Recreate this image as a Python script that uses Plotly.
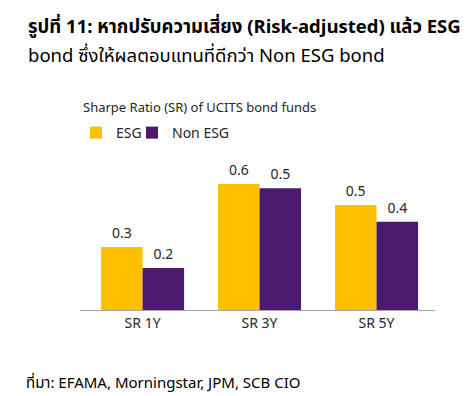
import plotly.graph_objects as go

categories = ["SR 1Y", "SR 3Y", "SR 5Y"]
esg_values = [0.30, 0.60, 0.50]
non_esg_values = [0.20, 0.58, 0.42]
esg_labels = ["0.3", "0.6", "0.5"]
non_esg_labels = ["0.2", "0.5", "0.4"]
series_names = ["ESG", "Non ESG"]

OFF = 8                      # page body margin
W, H = 474 - OFF, 396 - OFF
# target plot area in window pixels: x 80..435, y 163..310
L, R, T, B = 80 - OFF, 474 - 435, 163 - OFF, 396 - 310
FONT = "Tahoma, 'Noto Sans Thai', 'Noto Sans', sans-serif"
TXT = "#262626"

def px(x):
    return (x - OFF - L) / (W - L - R)

def py(y):
    return (OFF + H - B - y) / (H - T - B)

fig = go.Figure()
fig.add_trace(go.Bar(x=categories, y=esg_values, name=series_names[0], legend="legend",
                     marker=dict(color="#FFC000", line=dict(width=0)),
                     text=esg_labels, textposition="outside", cliponaxis=False,
                     textfont=dict(size=14, color=TXT, family=FONT)))
fig.add_trace(go.Bar(x=categories, y=non_esg_values, name=series_names[1], legend="legend2",
                     marker=dict(color="#4B1A6F", line=dict(width=0)),
                     text=non_esg_labels, textposition="outside", cliponaxis=False,
                     textfont=dict(size=14, color=TXT, family=FONT)))

legend_style = dict(orientation="h", xanchor="left", yanchor="middle",
                    font=dict(size=14, family=FONT, color=TXT), itemwidth=30,
                    bgcolor="rgba(0,0,0,0)")

fig.update_layout(
    width=W, height=H,
    margin=dict(l=L, r=R, t=T, b=B, autoexpand=False),
    paper_bgcolor="white", plot_bgcolor="white",
    barmode="group", bargap=0.29, bargroupgap=0,
    font=dict(family=FONT, color=TXT, size=13),
    showlegend=True,
    legend=dict(x=px(76), y=py(133), **legend_style),
    legend2=dict(x=px(132), y=py(133), **legend_style),
    xaxis=dict(range=[-0.535, 2.5], showline=True, linecolor="#A6A6A6", linewidth=1,
               ticks="", showgrid=False, tickfont=dict(size=14, family=FONT, color=TXT),
               fixedrange=True),
    yaxis=dict(range=[0, 0.7], visible=False, showgrid=False, zeroline=False, fixedrange=True),
)

fig.add_annotation(text="<b>รูปที่ 11: หากปรับความเสี่ยง (Risk-adjusted) แล้ว ESG</b>",
                   xref="paper", yref="paper", x=px(26), y=py(27), xanchor="left", yanchor="middle",
                   showarrow=False, font=dict(size=18.5, family=FONT, color="#000000"))
fig.add_annotation(text="bond ซึ่งให้ผลตอบแทนที่ดีกว่า Non ESG bond",
                   xref="paper", yref="paper", x=px(26), y=py(56), xanchor="left", yanchor="middle",
                   showarrow=False, font=dict(size=18.5, family=FONT, color="#000000"))
fig.add_annotation(text="Sharpe Ratio (SR) of UCITS bond funds",
                   xref="paper", yref="paper", x=px(81), y=py(108), xanchor="left", yanchor="middle",
                   showarrow=False, font=dict(size=13, family=FONT, color=TXT))
fig.add_annotation(text="ที่มา: EFAMA, Morningstar, JPM, SCB CIO",
                   xref="paper", yref="paper", x=px(24), y=py(383), xanchor="left", yanchor="middle",
                   showarrow=False, font=dict(size=15, family=FONT, color="#000000"))

fig.write_html("out.html")
